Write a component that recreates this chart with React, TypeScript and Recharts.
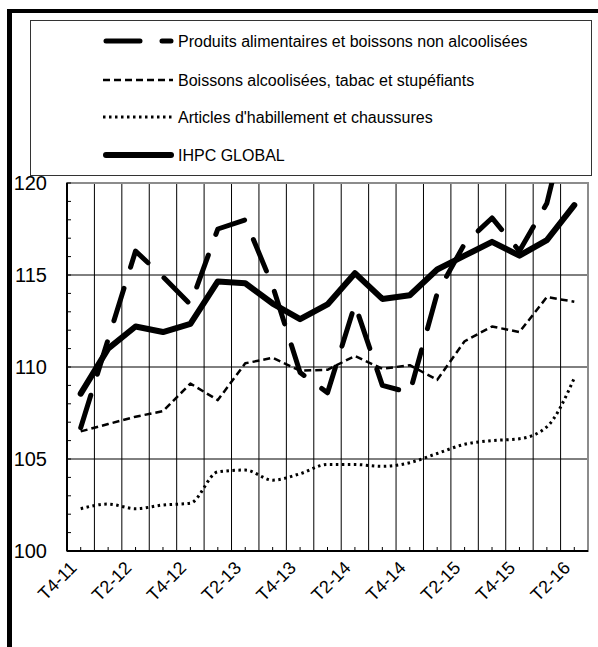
import { LineChart, Line, XAxis, YAxis, CartesianGrid, ReferenceArea, Legend } from 'recharts'

// quarters, one point per quarter
const categories = [
  'T4-11', 'T1-12', 'T2-12', 'T3-12', 'T4-12', 'T1-13', 'T2-13', 'T3-13', 'T4-13', 'T1-14',
  'T2-14', 'T3-14', 'T4-14', 'T1-15', 'T2-15', 'T3-15', 'T4-15', 'T1-16', 'T2-16',
]

const foodValues = [
  106.7, 111.5, 116.3, 114.9, 113.4, 117.5, 118.0, 114.4, 109.7, 108.6,
  113.4, 109.0, 108.6, 114.0, 116.7, 118.1, 116.3, 118.9, 125.0,
]
const alcoholValues = [
  106.5, 106.9, 107.3, 107.6, 109.1, 108.2, 110.2, 110.5, 109.8, 109.85,
  110.6, 109.9, 110.1, 109.3, 111.4, 112.2, 111.9, 113.8, 113.55,
]
const clothingValues = [
  102.3, 102.55, 102.3, 102.5, 102.6, 104.3, 104.4, 103.85, 104.2, 104.7,
  104.7, 104.6, 104.8, 105.3, 105.8, 106.0, 106.1, 106.75, 109.4,
]
const ihpcValues = [
  108.55, 111.0, 112.2, 111.9, 112.35, 114.65, 114.55, 113.45, 112.6, 113.4,
  115.1, 113.7, 113.9, 115.3, 116.05, 116.8, 116.05, 116.9, 118.8,
]

const yTicks = [100, 101, 102, 103, 104, 105, 106, 107, 108, 109, 110, 111, 112, 113, 114, 115, 116, 117, 118, 119, 120]
const yGridValues = [105, 110, 115]

const data = categories.map((q, i) => ({
  q,
  food: foodValues[i],
  alcohol: alcoholValues[i],
  clothing: clothingValues[i],
  ihpc: ihpcValues[i],
}))

const FONT = '"Liberation Sans", Arial, Helvetica, sans-serif'

const SERIES = [
  { key: 'food', name: 'Produits alimentaires et boissons non alcoolisées', width: 5, dash: '34 22', cap: 'round', type: 'linear' },
  { key: 'alcohol', name: 'Boissons alcoolisées, tabac et stupéfiants', width: 2.5, dash: '7 4', cap: 'butt', type: 'linear' },
  { key: 'clothing', name: "Articles d'habillement et chaussures", width: 3, dash: '2.5 3.5', cap: 'butt', type: 'monotone' },
  { key: 'ihpc', name: 'IHPC GLOBAL', width: 6, dash: undefined, cap: 'round', type: 'linear' },
]

function XTick(props: any) {
  const { x, y, payload, index } = props
  const tx = x - 3
  const ty = y + 18
  return (
    <g>
      <line x1={x} y1={y} x2={x} y2={y - 4} stroke="#000" />
      {index % 2 === 0 && (
        <text
          x={tx}
          y={ty}
          textAnchor="end"
          transform={`rotate(-45 ${tx} ${ty})`}
          fontSize={18}
          fontFamily={FONT}
          fill="#000"
        >
          {payload.value}
        </text>
      )}
    </g>
  )
}

function YTick(props: any) {
  const { x, y, payload } = props
  return (
    <g>
      <line x1={x} y1={y} x2={x + 4} y2={y} stroke="#000" />
      {payload.value % 5 === 0 && (
        <text x={x - 20} y={y} textAnchor="end" dominantBaseline="central" fontSize={20} fontFamily={FONT} fill="#000">
          {payload.value}
        </text>
      )}
    </g>
  )
}

const legendRows = [21, 60, 97, 135]

function LegendBox() {
  return (
    <svg width={562} height={156} style={{ display: 'block' }}>
      <rect x={0.5} y={0.5} width={561} height={155} fill="#fff" stroke="#333" />
      {SERIES.map((s, i) => (
        <g key={s.key}>
          <line
            x1={s.cap === 'round' ? 76 : 73}
            x2={s.cap === 'round' ? 141 : 143}
            y1={legendRows[i]}
            y2={legendRows[i]}
            stroke="#000"
            strokeWidth={s.width}
            strokeDasharray={s.dash}
            strokeLinecap={s.cap as any}
          />
          <text x={148} y={legendRows[i]} dominantBaseline="central" fontSize={16} fontFamily={FONT} fill="#000">
            {s.name}
          </text>
        </g>
      ))}
    </svg>
  )
}

export default function App() {
  return (
    <div
      style={{
        position: 'absolute',
        left: 0,
        top: 0,
        width: 598,
        height: 647,
        background: '#fff',
        overflow: 'hidden',
        fontFamily: FONT,
      }}
    >
      <div
        style={{
          position: 'absolute',
          left: 7,
          top: 9,
          width: 620,
          height: 660,
          borderLeft: '5px solid #000',
          borderTop: '4px solid #000',
        }}
      />
      <LineChart width={598} height={647} data={data} margin={{ top: 183, right: 10, bottom: 36, left: 13 }}>
        <CartesianGrid
          stroke="#000"
          strokeWidth={1}
          horizontalValues={yGridValues}
          verticalCoordinatesGenerator={({ offset }: any) => {
            const bw = offset.width / categories.length
            return categories.slice(1).map((_, i) => offset.left + bw * (i + 1))
          }}
        />
        <ReferenceArea y1={100} y2={120} fill="none" stroke="#8c8c8c" strokeWidth={2} />
        <XAxis
          dataKey="q"
          scale="band"
          interval={0}
          tickSize={0}
          tickMargin={0}
          tickLine={false}
          tick={<XTick />}
          height={60}
          axisLine={{ stroke: '#000', strokeWidth: 2 }}
        />
        <YAxis
          domain={[100, 120]}
          ticks={yTicks}
          interval={0}
          allowDataOverflow
          width={54}
          tickSize={0}
          tickMargin={0}
          tickLine={false}
          tick={<YTick />}
          axisLine={{ stroke: '#000', strokeWidth: 2 }}
        />
        <Legend
          layout="horizontal"
          verticalAlign="middle"
          align="center"
          wrapperStyle={{ left: 30, top: 20, width: 562, height: 156 }}
          content={() => <LegendBox />}
        />
        {SERIES.map((s) => (
          <Line
            key={s.key}
            dataKey={s.key}
            name={s.name}
            type={s.type as any}
            stroke="#000"
            strokeWidth={s.width}
            strokeDasharray={s.dash}
            strokeLinecap={s.cap as any}
            strokeLinejoin="round"
            dot={false}
            activeDot={false}
            isAnimationActive={false}
          />
        ))}
      </LineChart>
    </div>
  )
}
